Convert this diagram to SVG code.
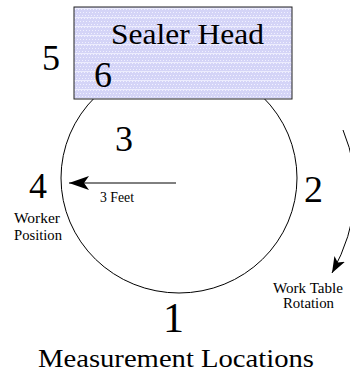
<svg xmlns="http://www.w3.org/2000/svg" width="350" height="379" viewBox="0 0 350 379">
<style>
text{fill:#000}
.big{font-size:36px}
.lbl{font-size:14px}
.ln{fill:none;stroke:#000;stroke-width:1}
</style>
<defs>
<pattern id="dots" width="3" height="9" patternUnits="userSpaceOnUse">
<rect width="3" height="9" fill="#d4d4f7"/>
<rect x="0" y="0" width="1" height="1" fill="#f0f0ff"/>
<rect x="2" y="3" width="1" height="1" fill="#f0f0ff"/>
<rect x="1" y="6" width="1" height="1" fill="#f0f0ff"/>
<rect x="0" y="8" width="3" height="1" fill="#ececfd"/>
</pattern>
<marker id="ah" markerWidth="22" markerHeight="16" refX="20" refY="8" orient="auto" markerUnits="userSpaceOnUse" viewBox="0 0 22 16">
<path d="M20,8 L0,1 L5,8 L0,15 Z" fill="#000"/>
</marker>
<marker id="ah2" markerWidth="18" markerHeight="14" refX="16" refY="7" orient="auto" markerUnits="userSpaceOnUse" viewBox="0 0 18 14">
<path d="M16,7 L0,1 L4,7 L0,13 Z" fill="#000"/>
</marker>
</defs>
<g id="table">
<ellipse cx="179" cy="178" rx="118" ry="115" class="ln"/>
</g>
<g font-family="Liberation Serif, Times New Roman, DejaVu Serif, serif">
<g id="sealer-head">
<rect x="74" y="7" width="218" height="92" fill="url(#dots)" stroke="#222" stroke-width="1"/>
<text x="111" y="44" font-size="30" textLength="153" lengthAdjust="spacingAndGlyphs">Sealer Head</text>
</g>
<g id="loc5"><text x="42" y="70" class="big">5</text></g>
<g id="loc6"><text x="94" y="87" class="big">6</text></g>
<g id="loc3"><text x="115" y="151" class="big">3</text></g>
<g id="loc4"><text x="29" y="198" class="big">4</text></g>
<g id="loc2"><text x="304" y="202" font-size="38">2</text></g>
<g id="loc1"><text x="163" y="332" font-size="42">1</text></g>
<g id="dist-label"><text x="100" y="202" font-size="14" textLength="34" lengthAdjust="spacingAndGlyphs">3 Feet</text></g>
<g id="worker">
<text x="14" y="223" class="lbl" textLength="46" lengthAdjust="spacingAndGlyphs">Worker</text>
<text x="14" y="240" class="lbl" textLength="48" lengthAdjust="spacingAndGlyphs">Position</text>
</g>
<g id="rotation">
<text x="273" y="293" class="lbl" textLength="70" lengthAdjust="spacingAndGlyphs">Work Table</text>
<text x="283" y="308" class="lbl" textLength="51" lengthAdjust="spacingAndGlyphs">Rotation</text>
</g>
<g id="title"><text x="38" y="367" font-size="26" textLength="276" lengthAdjust="spacingAndGlyphs">Measurement Locations</text></g>
</g>
<g id="connectors">
<line x1="176" y1="183" x2="69" y2="183" class="ln" marker-end="url(#ah)"/>
<path d="M343,130 Q372,200 332,273" class="ln" marker-end="url(#ah2)"/>
</g>
</svg>
